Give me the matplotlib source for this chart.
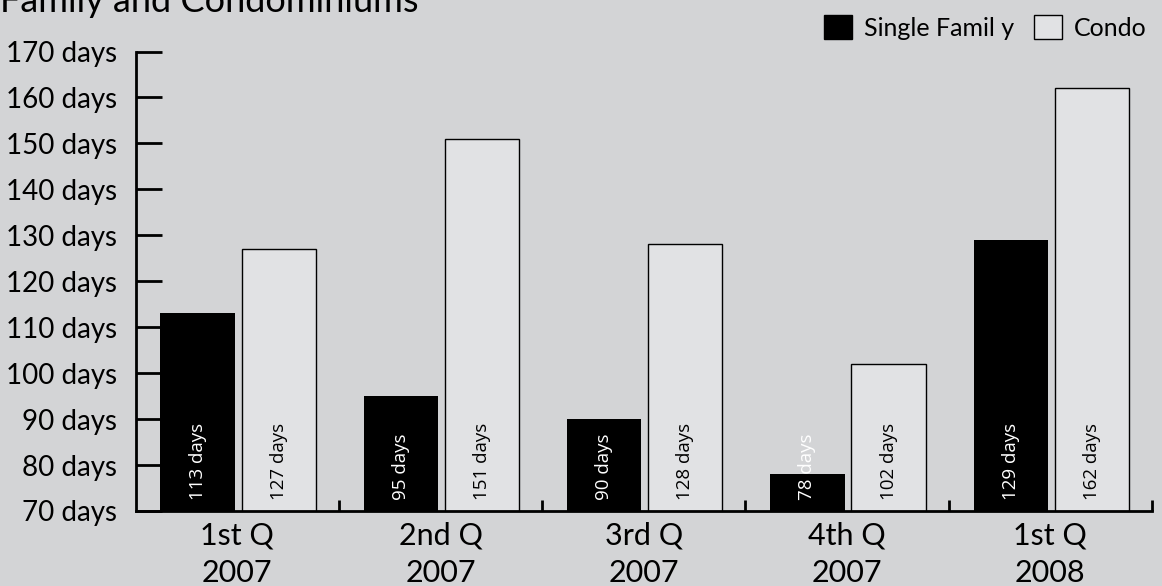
import numpy as np
import matplotlib
matplotlib.use('Agg')
import matplotlib.pyplot as plt
from matplotlib.patches import Patch

plt.rcParams['font.family'] = ['Lato', 'DejaVu Sans']

# Data
quarters = ['1st Q\n2007', '2nd Q\n2007', '3rd Q\n2007', '4th Q\n2007', '1st Q\n2008']
single_family = [113, 95, 90, 78, 129]
condo = [127, 151, 128, 102, 162]
y_ticks = [70, 80, 90, 100, 110, 120, 130, 140, 150, 160, 170]

bg = '#d3d4d6'
condo_color = '#e1e2e4'

fig = plt.figure(figsize=(11.62, 5.86), dpi=100, facecolor=bg)
ax = fig.add_axes([135.5 / 1162, 1 - 511 / 586, (1152 - 135.5) / 1162, (511 - 51.5) / 586])
ax.set_facecolor(bg)

x = np.arange(len(quarters)) + 0.5
w = 0.365
sf_bars = ax.bar(x - 0.195, single_family, width=w, color='black', zorder=2)
c_bars = ax.bar(x + 0.204, condo, width=w, color=condo_color, edgecolor='black', linewidth=1, zorder=2)

ax.set_ylim(70, 170)
ax.set_xlim(0, len(quarters))

# value labels inside bars
for b, v in zip(sf_bars, single_family):
    ax.text(b.get_x() + b.get_width() / 2, 72.4, f'{v} days', rotation=90, ha='center', va='bottom',
            color='white', fontsize=13.5, family='Open Sans', zorder=3)
for b, v in zip(c_bars, condo):
    ax.text(b.get_x() + b.get_width() / 2, 72.4, f'{v} days', rotation=90, ha='center', va='bottom',
            color='black', fontsize=13.5, family='Open Sans', zorder=3)

# spines
for s in ['top', 'right']:
    ax.spines[s].set_visible(False)
ax.spines['left'].set_linewidth(2)
ax.spines['bottom'].set_linewidth(2)

# y axis
ax.set_yticks(y_ticks)
ax.set_yticklabels([f'{t} days' for t in y_ticks])
ax.tick_params(axis='y', direction='in', length=19, width=2, pad=13, labelsize=20)

# x axis: ticks at category boundaries, labels at centers
ax.set_xticks(np.arange(1, len(quarters) + 1))
ax.set_xticklabels([])
ax.tick_params(axis='x', direction='in', length=8, width=2)
for xi, lab in zip(x, quarters):
    l1, l2 = lab.split('\n')
    ax.text(xi, 64.6, l1, ha='center', va='center', fontsize=22, zorder=3, clip_on=False)
    ax.text(xi, 56.6, l2, ha='center', va='center', fontsize=22, zorder=3, clip_on=False)

# title (partially cut off at top)
fig.text(0.0, 1 - 12 / 586, 'Family and Condominiums', fontsize=26, ha='left', va='baseline')

# legend
handles = [Patch(facecolor='black', edgecolor='black'),
           Patch(facecolor=condo_color, edgecolor='black', linewidth=1)]
leg = fig.legend(handles, ['Single Famil y', 'Condo'], loc='upper right',
                 bbox_to_anchor=(1.0, 1.0), ncol=2, frameon=False, fontsize=18,
                 handlelength=1.1, handleheight=1.1, handletextpad=0.5, columnspacing=0.8,
                 borderaxespad=0.2)

fig.savefig('out.png', dpi=100, facecolor=bg)
